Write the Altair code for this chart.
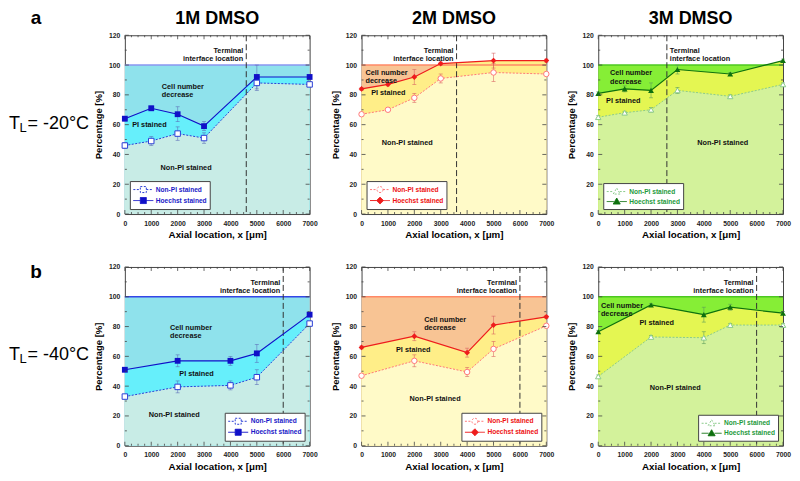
import altair as alt
import pandas as pd

FONT = "Liberation Sans"

# ---------------- data ----------------
X_A = [0, 1000, 2000, 3000, 5000, 7000]
X_B = [0, 2000, 4000, 5000, 7000]
SERIES = ["Non-PI stained", "Hoechst stained"]

# T_L = -20 °C
HOE_1M_A = [64, 71, 67, 59, 92, 92]
HOE_1M_A_ERR = [1.5, 1.5, 5, 3, 8, 1]
NON_1M_A = [46, 49, 54, 51, 88, 87]
NON_1M_A_ERR = [2, 3, 4.5, 3.5, 5, 1]

HOE_2M_A = [84, 87, 92, 101, 103, 103]
HOE_2M_A_ERR = [1, 1, 5, 1, 5, 1]
NON_2M_A = [67, 70, 78, 91, 95, 94]
NON_2M_A_ERR = [1, 1, 3, 3, 6, 1]

HOE_3M_A = [81, 84, 83, 97, 94, 103]
HOE_3M_A_ERR = [1, 2, 5, 3, 1, 1]
NON_3M_A = [65, 68, 70, 83, 79, 87]
NON_3M_A_ERR = [1, 1, 1.5, 2, 1, 1]

# T_L = -40 °C
HOE_1M_B = [51, 57, 57, 62, 88]
HOE_1M_B_ERR = [1, 4, 3, 6, 1]
NON_1M_B = [33, 39.5, 40.5, 46, 82]
NON_1M_B_ERR = [1, 4, 3, 5, 1]

HOE_2M_B = [66, 73.5, 62.5, 81, 86.5]
HOE_2M_B_ERR = [1, 3, 3, 6, 1]
NON_2M_B = [47, 57, 49.5, 65, 80.5]
NON_2M_B_ERR = [1, 4, 3, 5, 1]

HOE_3M_B = [76.5, 94.5, 88, 93, 89]
HOE_3M_B_ERR = [1, 1, 5, 2, 1]
NON_3M_B = [46.5, 73, 72.5, 81, 81]
NON_3M_B_ERR = [1, 1, 4, 1, 1]

TOTAL = 100
TERMINAL_A = {"1M": 4600, "2M": 3600, "3M": 2600}
TERMINAL_B = 6000

X_MAJOR = list(range(0, 7001, 1000))
X_MINOR = [v for v in range(0, 7001, 250) if v % 1000]
Y_MAJOR = list(range(0, 121, 20))
Y_MINOR = list(range(10, 120, 20))

# ---------------- styling ----------------
W, H = 185, 179
TICK = 4

PATH_SQ = "M-1,0H0.4M1.6,0H3M0.4,-0.6H1.6V0.6H0.4Z"
PATH_DI = "M-1,0H0.3M1.7,0H3M1,-0.7L1.7,0L1,0.7L0.3,0Z"
PATH_CI = "M-1,0H0.4M1.6,0H3M1.6,0A0.6,0.6 0 1,1 0.4,0A0.6,0.6 0 1,1 1.6,0Z"
PATH_TR = "M-1,0H0.4M1.6,0H3M1,-0.7L1.7,0.5L0.3,0.5Z"

THEMES = {
    "1M": dict(top="#8FE2EC", pi="#66EFFB", non="#C8ECE6", l100="#8A96F0",
               h="#1010C8", n="#2B3FD6", lab="#1A1AC8", err="#5A6AB8",
               hs="square", ns="square", hp=PATH_SQ, np=PATH_SQ),
    "2M": dict(top="#F8C494", pi="#FFEE88", non="#FFFAC8", l100="#FF8866",
               h="#EE1C1C", n="#FF7878", lab="#EE1111", err="#D86060",
               hs="diamond", ns="circle", hp=PATH_DI, np=PATH_CI),
    "3M": dict(top="#86EE36", pi="#E4F652", non="#D3F29B", l100="#4CC820",
               h="#0E700E", n="#8CCB8C", lab="#1E9A3C", err="#5A9A5A",
               hs="triangle-up", ns="triangle-up", hp=PATH_TR, np=PATH_TR),
}

XS = alt.Scale(domain=[0, 7000], nice=False, zero=False)
YS = alt.Scale(domain=[0, 120], nice=False)

XAX = alt.Axis(values=X_MAJOR, title="Axial location, x [μm]", ticks=False, domain=False,
               grid=False, labelFontSize=6.8, labelFontWeight="bold", labelColor="#222",
               labelPadding=6, titleFontSize=9.8, titleFontWeight="bold", titlePadding=3,
               labelFont=FONT, titleFont=FONT, format="d", labelFlush=False)
YAX = alt.Axis(values=Y_MAJOR, title="Percentage [%]", ticks=False, domain=False,
               grid=False, labelFontSize=6.8, labelFontWeight="bold", labelColor="#222",
               labelPadding=5, titleFontSize=9.5, titleFontWeight="bold", titlePadding=5,
               labelFont=FONT, titleFont=FONT, format="d")


def xq(f):
    return alt.X(f, type="quantitative", scale=XS, axis=XAX)


def yq(f):
    return alt.Y(f, type="quantitative", scale=YS, axis=YAX)


def text_layer(txt, x, y, align, dx=0):
    d = pd.DataFrame({"x": [x], "y": [y], "t": [txt]})
    return alt.Chart(d).mark_text(align=align, baseline="middle", fontSize=7.3,
                                  fontWeight="bold", font=FONT, color="#111",
                                  lineBreak="\n", lineHeight=8.6, dx=dx).encode(
        x=xq("x"), y=yq("y"), text="t:N")


def frame_ticks():
    ym = pd.DataFrame({"v": Y_MAJOR})
    yn = pd.DataFrame({"v": Y_MINOR})
    xm = pd.DataFrame({"v": X_MAJOR})
    xn = pd.DataFrame({"v": X_MINOR})
    layers = []
    for d, ln in ((ym, TICK), (yn, TICK / 2)):
        layers.append(alt.Chart(d).mark_rule(color="#444", strokeWidth=0.8).encode(
            y=yq("v"), x=alt.value(0), x2=alt.value(ln)))
        layers.append(alt.Chart(d).mark_rule(color="#444", strokeWidth=0.8).encode(
            y=yq("v"), x=alt.value(W - ln), x2=alt.value(W)))
    for d, ln in ((xm, TICK), (xn, TICK / 2)):
        layers.append(alt.Chart(d).mark_rule(color="#444", strokeWidth=0.8).encode(
            x=xq("v"), y=alt.value(H), y2=alt.value(H - ln)))
        layers.append(alt.Chart(d).mark_rule(color="#444", strokeWidth=0.8).encode(
            x=xq("v"), y=alt.value(0), y2=alt.value(ln)))
    return layers


def panel(key, xs, hoe, hoe_err, non, non_err, term_x, term_left, ann, legend_orient,
          title=None, l100=None):
    th = THEMES[key]
    df = pd.DataFrame({"x": xs, "h": hoe, "n": non, "top": [TOTAL] * len(xs)})
    df["h_lo"] = [v - e for v, e in zip(hoe, hoe_err)]
    df["h_hi"] = [v + e for v, e in zip(hoe, hoe_err)]
    df["n_lo"] = [v - e for v, e in zip(non, non_err)]
    df["n_hi"] = [v + e for v, e in zip(non, non_err)]
    base = alt.Chart(df)

    layers = [
        base.mark_area(color=th["top"], opacity=1).encode(x=xq("x"), y=yq("top")),
        base.mark_area(color=th["pi"], opacity=1).encode(x=xq("x"), y=yq("h")),
        base.mark_area(color=th["non"], opacity=1).encode(x=xq("x"), y=yq("n")),
        base.mark_line(color=l100 or th["l100"], strokeWidth=1.5).encode(x=xq("x"), y=yq("top")),
        alt.Chart(pd.DataFrame({"t": [term_x]})).mark_rule(
            color="#333", strokeDash=[6, 3], strokeWidth=1).encode(x=xq("t")),
    ]
    # error bars
    for lo, hi in (("n_lo", "n_hi"), ("h_lo", "h_hi")):
        layers.append(base.mark_rule(color=th["err"], strokeWidth=0.7, opacity=0.8).encode(
            x=xq("x"), y=yq(lo), y2=alt.Y2(hi)))
        for f in (lo, hi):
            layers.append(base.mark_tick(orient="horizontal", size=4, thickness=0.7,
                                         color=th["err"], opacity=0.8).encode(x=xq("x"), y=yq(f)))
    layers += [
        base.mark_line(color=th["n"], strokeDash=[2, 1.5], strokeWidth=1).encode(x=xq("x"), y=yq("n")),
        base.mark_line(color=th["h"], strokeWidth=1.2).encode(x=xq("x"), y=yq("h")),
        base.mark_point(shape=th["ns"], filled=True, fill="white", stroke=th["n"],
                        strokeWidth=1, size=30, opacity=1).encode(x=xq("x"), y=yq("n")),
        base.mark_point(shape=th["hs"], filled=True, color=th["h"], size=34,
                        opacity=1).encode(x=xq("x"), y=yq("h")),
    ]
    # annotations
    for txt, x, y, al in ann:
        layers.append(text_layer(txt, x, y, al))
    layers.append(text_layer("Terminal\ninterface location", term_x, 109.5,
                             "left" if term_left else "right", dx=3 if term_left else -3))
    layers += frame_ticks()

    # legend driver
    leg = alt.Legend(title=None, orient=legend_orient, offset=5, padding=3,
                     strokeColor="#444", fillColor="white", labelColor=th["lab"],
                     labelFontSize=6.6, labelFontWeight="bold", labelFont=FONT,
                     labelOffset=12, rowPadding=0, symbolStrokeWidth=1, cornerRadius=0,
                     symbolSize=100)
    ldf = pd.DataFrame({"s": SERIES})
    layers.append(alt.Chart(ldf).mark_point(clip=True, size=100, strokeWidth=1, opacity=1).encode(
        x=alt.value(-60), y=alt.value(-60),
        shape=alt.Shape("s:N", scale=alt.Scale(domain=SERIES, range=[th["np"], th["hp"]]), legend=leg),
        fill=alt.Fill("s:N", scale=alt.Scale(domain=SERIES, range=["white", th["h"]]), legend=leg),
        stroke=alt.Stroke("s:N", scale=alt.Scale(domain=SERIES, range=[th["n"], th["h"]]), legend=leg),
        strokeDash=alt.StrokeDash("s:N", scale=alt.Scale(domain=SERIES, range=[[2, 1.5], [1, 0]]),
                                  legend=leg),
    ))
    props = dict(width=W, height=H)
    if title:
        props["title"] = alt.TitleParams(title, fontSize=18, fontWeight="bold", font=FONT,
                                         color="black", offset=4, anchor="middle")
    return alt.layer(*layers).properties(**props)


LAB_DF = pd.DataFrame({"k": [0]})


def label_chart(letter, temp, letter_y):
    b = alt.Chart(LAB_DF)
    ty = H / 2 + 4
    return alt.layer(
        b.mark_text(text=letter, fontSize=19, fontWeight="bold", font=FONT, align="center",
                    baseline="alphabetic", color="black").encode(x=alt.value(27), y=alt.value(letter_y)),
        b.mark_text(text="T", fontSize=18, font=FONT, align="left", baseline="alphabetic",
                    color="black").encode(x=alt.value(0), y=alt.value(ty)),
        b.mark_text(text="L", fontSize=13, font=FONT, align="left", baseline="alphabetic",
                    color="black").encode(x=alt.value(10.5), y=alt.value(ty + 3)),
        b.mark_text(text="= " + temp, fontSize=18, font=FONT, align="left", baseline="alphabetic",
                    color="black").encode(x=alt.value(18.5), y=alt.value(ty)),
    ).properties(width=64, height=H, view=alt.ViewBackground(stroke="transparent"))


ANN_A = {
    "1M": [("Cell number\ndecrease", 1400, 85.5, "left"), ("PI stained", 930, 60, "center"),
           ("Non-PI stained", 2320, 31, "center")],
    "2M": [("Cell number\ndecrease", 150, 94.8, "left"), ("PI stained", 1016, 81, "center"),
           ("Non-PI stained", 1730, 48, "center")],
    "3M": [("Cell number\ndecrease", 447, 94.4, "left"), ("PI stained", 950, 76, "center"),
           ("Non-PI stained", 4717, 47.7, "center")],
}
ANN_B = {
    "1M": [("Cell number\ndecrease", 1710, 79.2, "left"), ("PI stained", 2714, 48.3, "center"),
           ("Non-PI stained", 1870, 20.6, "center")],
    "2M": [("Cell number\ndecrease", 2371, 84.6, "left"), ("PI stained", 1957, 64, "center"),
           ("Non-PI stained", 2786, 31.5, "center")],
    "3M": [("Cell number\ndecrease", 100, 94, "left"), ("PI stained", 2215, 82.6, "center"),
           ("Non-PI stained", 2916, 38.6, "center")],
}

p1a = panel("1M", X_A, HOE_1M_A, HOE_1M_A_ERR, NON_1M_A, NON_1M_A_ERR, TERMINAL_A["1M"], False,
            ANN_A["1M"], "bottom-left", title="1M DMSO")
p2a = panel("2M", X_A, HOE_2M_A, HOE_2M_A_ERR, NON_2M_A, NON_2M_A_ERR, TERMINAL_A["2M"], False,
            ANN_A["2M"], "bottom-left", title="2M DMSO")
p3a = panel("3M", X_A, HOE_3M_A, HOE_3M_A_ERR, NON_3M_A, NON_3M_A_ERR, TERMINAL_A["3M"], True,
            ANN_A["3M"], "bottom-left", title="3M DMSO")
p1b = panel("1M", X_B, HOE_1M_B, HOE_1M_B_ERR, NON_1M_B, NON_1M_B_ERR, TERMINAL_B, False,
            ANN_B["1M"], "bottom-right", l100="#3446E6")
p2b = panel("2M", X_B, HOE_2M_B, HOE_2M_B_ERR, NON_2M_B, NON_2M_B_ERR, TERMINAL_B, False,
            ANN_B["2M"], "bottom-right")
p3b = panel("3M", X_B, HOE_3M_B, HOE_3M_B_ERR, NON_3M_B, NON_3M_B_ERR, TERMINAL_B, False,
            ANN_B["3M"], "bottom-right")

la = label_chart("a", "-20°C", -11)
lb = label_chart("b", "-40°C", 11)

chart = alt.concat(la, p1a, p2a, p3a, lb, p1b, p2b, p3b, columns=4,
                   spacing=alt.RowColnumber(row=53, column=52), bounds="flush").resolve_scale(
    shape="independent", fill="independent", stroke="independent", strokeDash="independent"
).resolve_legend(
    shape="independent", fill="independent", stroke="independent", strokeDash="independent"
).properties(padding=0).configure(font=FONT).configure_view(stroke="#444", strokeWidth=1)

chart.save("out.html", embed_options={"renderer": "svg", "actions": False})
